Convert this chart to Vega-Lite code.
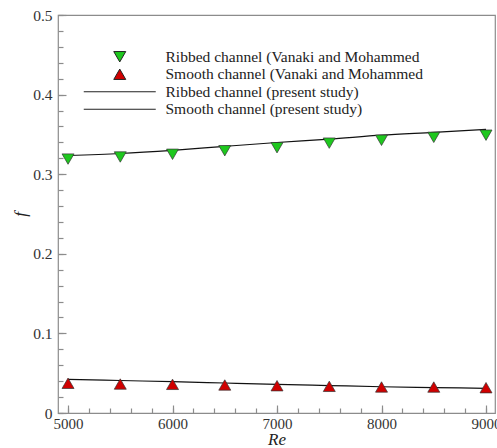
{
  "$schema": "https://vega.github.io/schema/vega-lite/v6.json",
  "width": 437,
  "height": 398,
  "autosize": "none",
  "padding": {"left": 58, "top": 15, "right": 2, "bottom": 35},
  "background": "white",
  "config": {
    "view": {"stroke": "#8c8c8c", "strokeWidth": 1.2},
    "axis": {"grid": false, "domain": false, "tickColor": "#8c8c8c", "tickWidth": 1.2, "labelFont": "Liberation Serif", "labelFontSize": 15.5, "labelColor": "#333", "titleFont": "Liberation Serif", "titleFontSize": 17, "titleFontStyle": "italic", "titleFontWeight": "normal", "titleColor": "#222", "labelFlush": false, "labelOverlap": false, "labelBound": false}
  },
  "data": {
    "values": [
      {"Re": 5000, "f": 0.319, "series": "Ribbed channel (Vanaki and Mohammed"},
      {"Re": 5500, "f": 0.3216, "series": "Ribbed channel (Vanaki and Mohammed"},
      {"Re": 6000, "f": 0.325, "series": "Ribbed channel (Vanaki and Mohammed"},
      {"Re": 6500, "f": 0.3295, "series": "Ribbed channel (Vanaki and Mohammed"},
      {"Re": 7000, "f": 0.3333, "series": "Ribbed channel (Vanaki and Mohammed"},
      {"Re": 7500, "f": 0.339, "series": "Ribbed channel (Vanaki and Mohammed"},
      {"Re": 8000, "f": 0.3426, "series": "Ribbed channel (Vanaki and Mohammed"},
      {"Re": 8500, "f": 0.3463, "series": "Ribbed channel (Vanaki and Mohammed"},
      {"Re": 9000, "f": 0.349, "series": "Ribbed channel (Vanaki and Mohammed"},
      {"Re": 5000, "f": 0.0373, "series": "Smooth channel (Vanaki and Mohammed"},
      {"Re": 5500, "f": 0.0364, "series": "Smooth channel (Vanaki and Mohammed"},
      {"Re": 6000, "f": 0.036, "series": "Smooth channel (Vanaki and Mohammed"},
      {"Re": 6500, "f": 0.0352, "series": "Smooth channel (Vanaki and Mohammed"},
      {"Re": 7000, "f": 0.0343, "series": "Smooth channel (Vanaki and Mohammed"},
      {"Re": 7500, "f": 0.0335, "series": "Smooth channel (Vanaki and Mohammed"},
      {"Re": 8000, "f": 0.0327, "series": "Smooth channel (Vanaki and Mohammed"},
      {"Re": 8500, "f": 0.0326, "series": "Smooth channel (Vanaki and Mohammed"},
      {"Re": 9000, "f": 0.0318, "series": "Smooth channel (Vanaki and Mohammed"},
      {"Re": 5000, "f": 0.3235, "series": "Ribbed channel (present study)"},
      {"Re": 5500, "f": 0.326, "series": "Ribbed channel (present study)"},
      {"Re": 6000, "f": 0.33, "series": "Ribbed channel (present study)"},
      {"Re": 6500, "f": 0.335, "series": "Ribbed channel (present study)"},
      {"Re": 7000, "f": 0.3398, "series": "Ribbed channel (present study)"},
      {"Re": 7500, "f": 0.344, "series": "Ribbed channel (present study)"},
      {"Re": 8000, "f": 0.349, "series": "Ribbed channel (present study)"},
      {"Re": 8500, "f": 0.3525, "series": "Ribbed channel (present study)"},
      {"Re": 9000, "f": 0.3562, "series": "Ribbed channel (present study)"},
      {"Re": 5000, "f": 0.0423, "series": "Smooth channel (present study)"},
      {"Re": 5500, "f": 0.0408, "series": "Smooth channel (present study)"},
      {"Re": 6000, "f": 0.0394, "series": "Smooth channel (present study)"},
      {"Re": 6500, "f": 0.0377, "series": "Smooth channel (present study)"},
      {"Re": 7000, "f": 0.036, "series": "Smooth channel (present study)"},
      {"Re": 7500, "f": 0.0345, "series": "Smooth channel (present study)"},
      {"Re": 8000, "f": 0.033, "series": "Smooth channel (present study)"},
      {"Re": 8500, "f": 0.032, "series": "Smooth channel (present study)"},
      {"Re": 9000, "f": 0.031, "series": "Smooth channel (present study)"}
    ]
  },
  "layer": [
    {
      "transform": [{"filter": "indexof(datum.series, 'present study') >= 0"}],
      "mark": {"type": "line", "color": "#111", "strokeWidth": 1.2, "interpolate": "monotone"},
      "encoding": {
        "x": {"field": "Re", "type": "quantitative", "scale": {"domain": [4904, 9086], "nice": false, "zero": false},
          "axis": {"orient": "bottom", "title": "Re", "values": [5000, 6000, 7000, 8000, 9000], "format": "d", "tickSize": -8, "labelPadding": 11, "labelFontSize": 15, "titleX": 218.5, "titleY": 26.5, "titleAlign": "center", "titleBaseline": "middle"}},
        "y": {"field": "f", "type": "quantitative", "scale": {"domain": [0, 0.5], "nice": false, "zero": false},
          "axis": {"orient": "left", "title": "f", "values": [0, 0.1, 0.2, 0.3, 0.4, 0.5], "format": ".1~f", "tickSize": -8, "labelPadding": 14, "titleX": -38, "titleY": 199, "titleAlign": "center", "titleBaseline": "middle", "titleAngle": -90}},
        "detail": {"field": "series"}
      }
    },
    {
      "transform": [{"filter": "indexof(datum.series, 'Vanaki') >= 0"}],
      "mark": {"type": "point", "filled": true, "size": 144, "opacity": 1, "stroke": "#333", "strokeWidth": 0.7},
      "encoding": {
        "x": {"field": "Re", "type": "quantitative",
          "axis": {"orient": "bottom", "title": null, "values": [5000, 5200, 5400, 5600, 5800, 6000, 6200, 6400, 6600, 6800, 7000, 7200, 7400, 7600, 7800, 8000, 8200, 8400, 8600, 8800, 9000], "labels": false, "tickSize": -5}},
        "y": {"field": "f", "type": "quantitative",
          "axis": {"orient": "left", "title": null, "values": [0, 0.02, 0.04, 0.06, 0.08, 0.1, 0.12, 0.14, 0.16, 0.18, 0.2, 0.22, 0.24, 0.26, 0.28, 0.3, 0.32, 0.34, 0.36, 0.38, 0.4, 0.42, 0.44, 0.46, 0.48, 0.5], "labels": false, "tickSize": -5}},
        "color": {"field": "series", "type": "nominal",
          "scale": {"domain": ["Ribbed channel (Vanaki and Mohammed", "Smooth channel (Vanaki and Mohammed", "Ribbed channel (present study)", "Smooth channel (present study)"], "range": ["#1ec81e", "#d00000", "#111111", "#111111"]},
          "legend": {"title": null, "orient": "none", "legendX": 54, "legendY": 34, "labelFont": "Liberation Serif", "labelFontSize": 15.5, "labelColor": "#222", "labelLimit": 0, "symbolSize": 144, "symbolStrokeColor": "#222", "symbolStrokeWidth": 1, "labelOffset": 38, "rowPadding": 0.5}},
        "shape": {"field": "series", "type": "nominal",
          "scale": {"domain": ["Ribbed channel (Vanaki and Mohammed", "Smooth channel (Vanaki and Mohammed", "Ribbed channel (present study)", "Smooth channel (present study)"], "range": ["triangle-down", "triangle-up", "M-6,0H6", "M-6,0H6"]},
          "legend": {"title": null, "orient": "none", "legendX": 54, "legendY": 34, "labelFont": "Liberation Serif", "labelFontSize": 15.5, "labelColor": "#222", "labelLimit": 0, "symbolSize": 144, "symbolStrokeColor": "#222", "symbolStrokeWidth": 1, "labelOffset": 38, "rowPadding": 0.5}}
      }
    }
  ],
  "resolve": {"axis": {"x": "independent", "y": "independent"}}
}
